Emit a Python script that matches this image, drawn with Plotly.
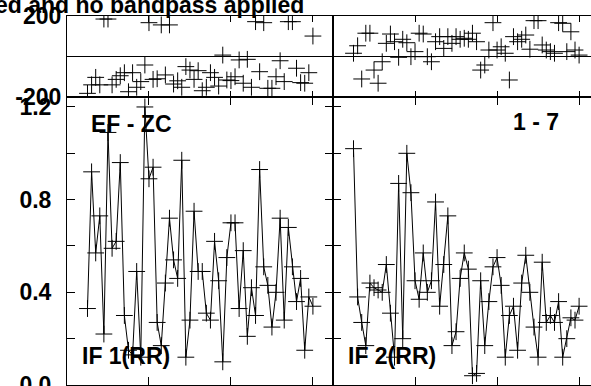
import plotly.graph_objects as go

# sample index (same for every panel)
idx = list(range(5, 61))

# instantaneous frequency, bottom panels
if1_rr = [0.33, 0.92, 0.57, 0.73, 0.22, 1.09, 0.59, 0.62, 0.96, 0.30,
          0.15, 0.13, 0.49, 0.12, 1.20, 0.89, 0.94, 0.27, 0.17, 0.44,
          0.72, 0.54, 0.46, 0.97, 0.12, 0.28, 0.75, 0.49, 0.49, 0.31,
          0.28, 0.62, 0.45, 0.10, 0.55, 0.70, 0.70, 0.33, 0.58, 0.21,
          0.42, 0.30, 0.93, 0.51, 0.43, 0.25, 0.40, 0.72, 0.28, 0.68,
          0.51, 0.36, 0.46, 0.15, 0.38, 0.34]
if2_rr = [1.02, 0.38, 0.27, 0.17, 0.44, 0.42, 0.41, 0.40, 0.52, 0.31,
          0.12, 0.87, 0.20, 1.00, 0.83, 0.45, 0.37, 0.57, 0.40, 0.45,
          0.79, 0.34, 0.52, 0.73, 0.17, 0.23, 0.46, 0.57, 0.50, 0.04,
          0.05, 0.45, 0.17, 0.36, 0.51, 0.55, 0.43, 0.12, 0.30, 0.34,
          0.15, 0.44, 0.56, 0.40, 0.25, 0.12, 0.53, 0.27, 0.30, 0.27,
          0.36, 0.12, 0.20, 0.29, 0.28, 0.34]

# phase, top panels
phase_1 = [-182, -140, -103, -140, 185, 185, -140, -113, -95, -80,
           -174, -80, -152, -124, -42, 167, -113, -110, 156, -91,
           156, -136, -120, -152, -50, -67, -113, -70, -169, -152,
           -80, -103, -146, 7, -116, -119, -100, -17, -132, -14,
           -152, 172, -75, 167, -157, -157, -100, -21, -124, 172,
           172, -58, -129, -132, -80, 101]
phase_2 = [16, 53, -111, 115, 115, -67, -132, -26, 65, 111,
           73, -4, 85, 68, -1, 24, 115, 111, -1, -26,
           73, 98, 40, 98, 65, 98, 85, 90, 85, 115,
           73, -67, -42, 32, 167, 32, 48, 16, -116, 98,
           73, 85, 106, 36, 177, 177, 57, 32, 24, 16,
           167, 164, 24, 122, 32, 7]

FONT = "Liberation Sans"
W, H = 591, 386
L, T, B = 67, 16, 1
plot_w = W - L
plot_h = H - T - B


# screen pixel -> paper fraction
def px_x(p):
    return (p - L) / plot_w


def px_y(p):
    return (H - B - p) / plot_h


split_x = px_x(333)
split_y = px_y(97)

cross = dict(symbol="cross-thin-open", size=12, color="black",
             line=dict(color="black", width=1))

fig = go.Figure()
fig.add_trace(go.Scatter(x=idx, y=if1_rr, mode="lines+markers", marker=cross,
                         line=dict(color="black", width=1), xaxis="x", yaxis="y"))
fig.add_trace(go.Scatter(x=idx, y=if2_rr, mode="lines+markers", marker=cross,
                         line=dict(color="black", width=1), xaxis="x2", yaxis="y2"))
fig.add_trace(go.Scatter(x=idx, y=phase_1, mode="markers", marker=cross,
                         xaxis="x3", yaxis="y3"))
fig.add_trace(go.Scatter(x=idx, y=phase_2, mode="markers", marker=cross,
                         xaxis="x4", yaxis="y4"))

tickfont = dict(family=FONT, size=23, color="black", weight="bold")
ax = dict(showgrid=False, zeroline=False, linecolor="black", linewidth=1,
          ticks="inside", tickcolor="black", tickwidth=1, tickfont=tickfont,
          automargin=False, ticklabeloverflow="allow")
xticks = dict(tickvals=[0, 20, 40, 60], showticklabels=False, ticklen=8)

fig.update_layout(
    width=W, height=H,
    margin=dict(l=L, r=0, t=T, b=B),
    plot_bgcolor="white", paper_bgcolor="white",
    showlegend=False,
    xaxis=dict(**ax, **xticks, domain=[0, split_x], range=[0, 64.9],
               mirror="ticks", anchor="y"),
    yaxis=dict(**ax, domain=[0, split_y], range=[0, 1.243], ticklen=8,
               tickvals=[0, 0.2, 0.4, 0.6, 0.8, 1.0, 1.2],
               ticktext=["0.0", "", "0.4", "", "0.8", "", "1.2"],
               mirror="ticks", anchor="x", ticklabelstandoff=10),
    xaxis2=dict(**ax, **xticks, domain=[split_x, 1], range=[0, 62.9],
                mirror="ticks", anchor="y2"),
    yaxis2=dict(**ax, domain=[0, split_y], range=[0, 1.243], ticklen=8,
                tickvals=[0, 0.2, 0.4, 0.6, 0.8, 1.0, 1.2],
                showticklabels=False, anchor="x2"),
    xaxis3=dict(**ax, tickvals=[0, 20, 40, 60], showticklabels=False, ticklen=6,
                domain=[0, split_x], range=[0, 64.9], mirror="ticks", anchor="y3"),
    yaxis3=dict(**{**ax, "zeroline": True}, zerolinecolor="black", zerolinewidth=1,
                domain=[split_y, 1], range=[-200, 200], ticklen=8,
                tickvals=[-200, 200], ticktext=["-200", "200"],
                mirror="ticks", anchor="x3", ticklabelstandoff=0),
    xaxis4=dict(**ax, tickvals=[0, 20, 40, 60], showticklabels=False, ticklen=6,
                domain=[split_x, 1], range=[0, 62.9], mirror="ticks", anchor="y4"),
    yaxis4=dict(**{**ax, "zeroline": True}, zerolinecolor="black", zerolinewidth=1,
                domain=[split_y, 1], range=[-200, 200], ticklen=8,
                tickvals=[-200, 200], showticklabels=False, anchor="x4"),
)

labelfont = dict(family=FONT, size=23, color="black", weight="bold")
notes = [
    ("Not detrended and no bandpass applied", px_x(306), px_y(5), "right"),
    ("EF - ZC", px_x(89), px_y(124), "left"),
    ("1 - 7", px_x(511), px_y(122), "left"),
    ("IF 1(RR)", px_x(80), px_y(356), "left"),
    ("IF 2(RR)", px_x(346), px_y(356), "left"),
]
for text, x, y, xa in notes:
    fig.add_annotation(text=text, x=x, y=y, xref="paper", yref="paper",
                       xanchor=xa, yanchor="middle", showarrow=False,
                       font=labelfont)

# drop the default 8px page margin so the figure sits at the window corner
fig.write_html("out.html", config={"displayModeBar": False},
               post_script="document.body.style.margin = '0';")
